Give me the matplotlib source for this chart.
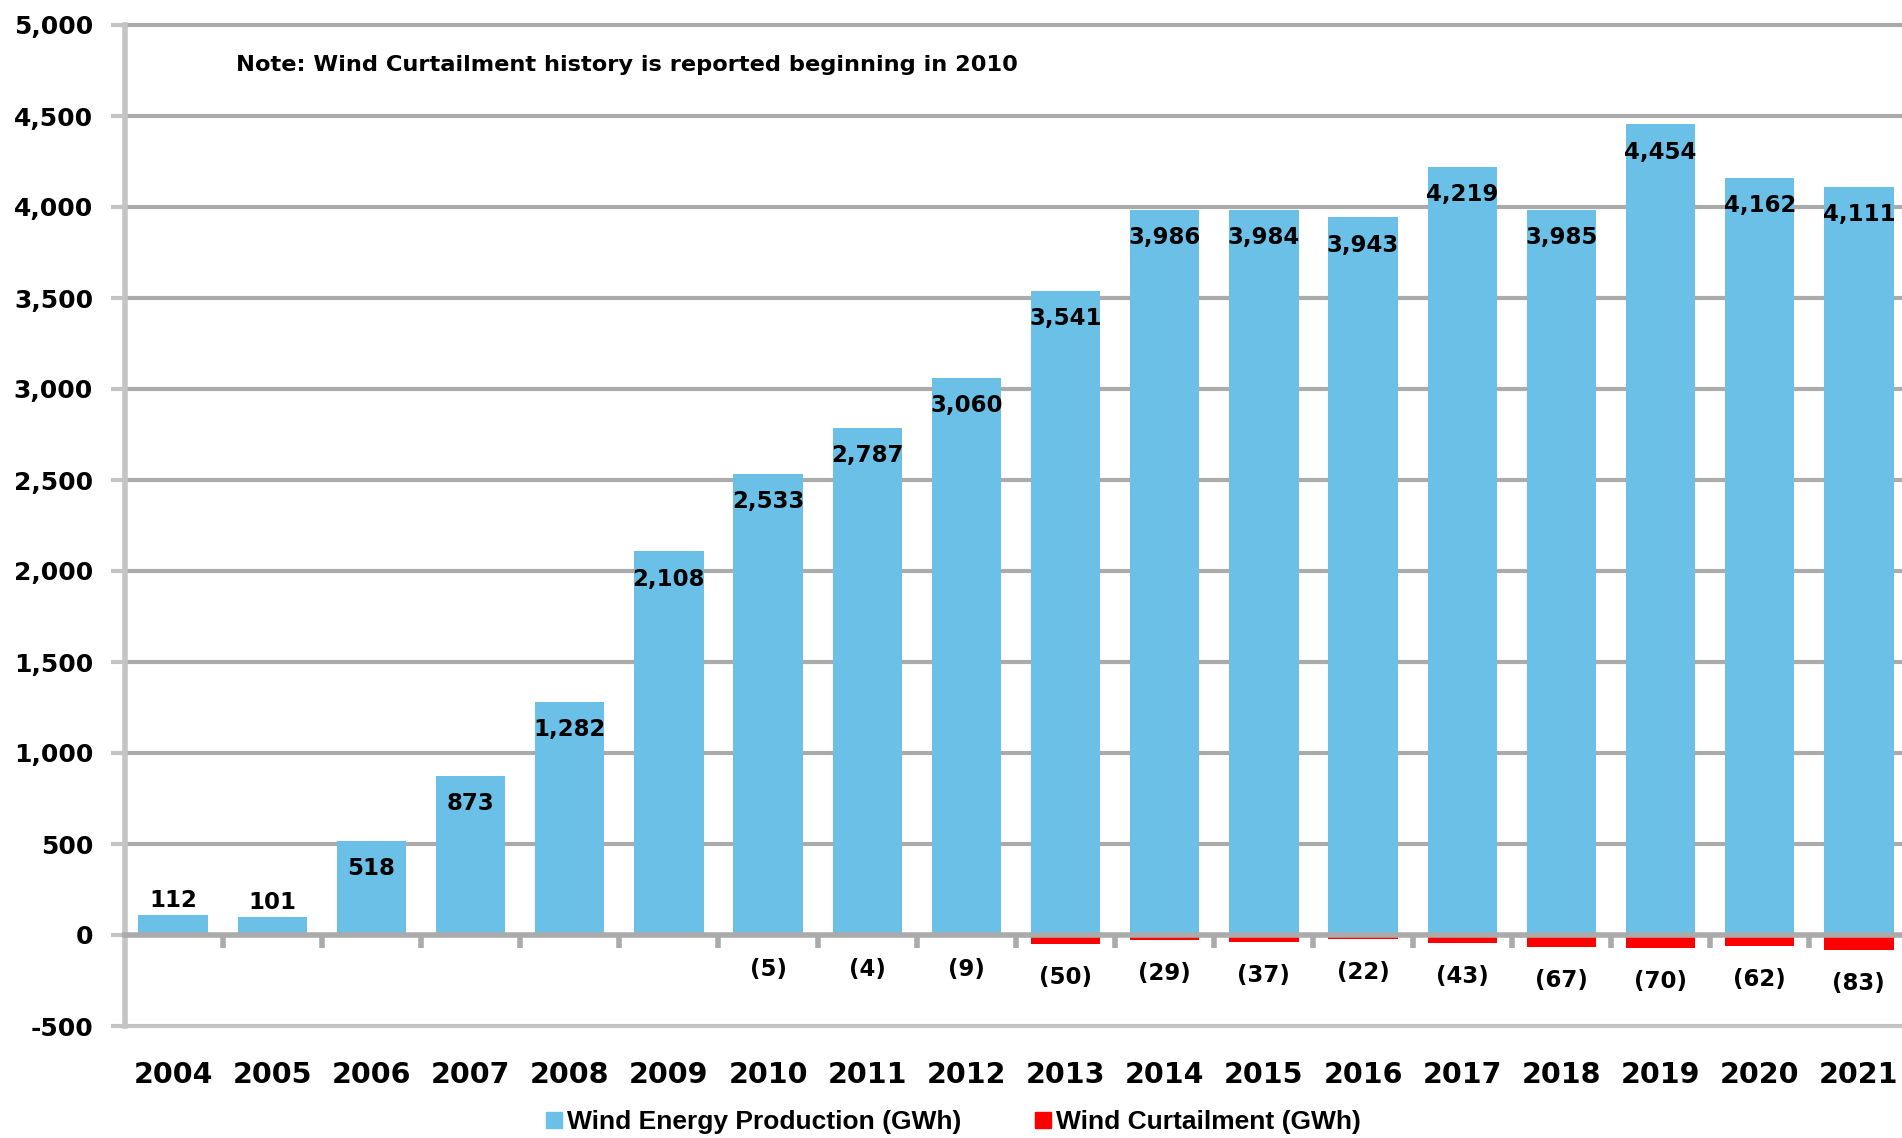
import matplotlib
matplotlib.use("Agg")
import matplotlib.pyplot as plt
from matplotlib.lines import Line2D
import matplotlib.font_manager as fm

years = ["2004", "2005", "2006", "2007", "2008", "2009", "2010", "2011", "2012",
         "2013", "2014", "2015", "2016", "2017", "2018", "2019", "2020", "2021"]
production = [112, 101, 518, 873, 1282, 2108, 2533, 2787, 3060, 3541, 3986,
              3984, 3943, 4219, 3985, 4454, 4162, 4111]
curtailment = [None, None, None, None, None, None, 5, 4, 9, 50, 29, 37, 22,
               43, 67, 70, 62, 83]
yticks = [-500, 0, 500, 1000, 1500, 2000, 2500, 3000, 3500, 4000, 4500, 5000]

BLUE = "#6BC0E8"
RED = "#FF0000"
GRID = "#ABABAB"
SPINE = "#C4C4C4"

names = {f.name for f in fm.fontManager.ttflist}
narrow = "Liberation Sans Narrow" if "Liberation Sans Narrow" in names else "Liberation Sans"
legend_size = 21 if narrow == "Liberation Sans Narrow" else 19

plt.rcParams["font.family"] = ["DejaVu Sans"]
plt.rcParams["font.weight"] = "bold"

fig = plt.figure(figsize=(19.02, 11.38), dpi=100)
ax = fig.add_axes([125 / 1902, 112 / 1138, 1 - 125 / 1902, (1026 - 25) / 1138])

x = list(range(len(years)))
ax.bar(x, production, width=0.7, color=BLUE, zorder=3)
neg = [-(c if c is not None else 0) for c in curtailment]
ax.bar(x, neg, width=0.7, color=RED, zorder=3)

ax.set_xlim(-0.485, len(years) - 1 + 0.435)
ax.set_ylim(-500, 5000)
ax.set_yticks(yticks)
ax.set_yticklabels([f"{v:,}" for v in yticks], fontsize=18, fontweight="bold")
ax.tick_params(axis="y", length=10, width=3, color=SPINE, pad=13)
ax.set_xticks(x)
ax.set_xticklabels(years, fontsize=20.5, fontweight="bold")
ax.tick_params(axis="x", length=0, pad=25)

for v in yticks:
    if v not in (-500, 0):
        ax.axhline(v, color=GRID, lw=3, zorder=1, clip_on=False)

for s in ["top", "right"]:
    ax.spines[s].set_visible(False)
ax.spines["left"].set_color(SPINE)
ax.spines["left"].set_linewidth(4)
ax.spines["bottom"].set_color(SPINE)
ax.spines["bottom"].set_linewidth(3)

# zero axis with category-boundary ticks
sec = ax.secondary_xaxis(500 / 5500)
sec.set_xticks([i + 0.5 for i in x[:-1]])
sec.set_xticklabels([])
sec.tick_params(axis="x", length=9, width=4, color=GRID, direction="out")
sec.spines["bottom"].set_color(GRID)
sec.spines["bottom"].set_linewidth(4)
sec.set_zorder(4)

for i, v in enumerate(production):
    if v < 300:
        ax.annotate(f"{v:,}", (i, v), xytext=(0, 10), textcoords="offset points",
                    ha="center", va="center", fontsize=16.5, fontweight="bold", zorder=5)
    else:
        ax.annotate(f"{v:,}", (i, v), xytext=(0, -20), textcoords="offset points",
                    ha="center", va="center", fontsize=16.5, fontweight="bold", zorder=5)

for i, c in enumerate(curtailment):
    if c is None:
        continue
    ax.annotate(f"({c})", (i, -c), xytext=(0, -24), textcoords="offset points",
                ha="center", va="center", fontsize=16.5, fontweight="bold", zorder=5)

fig.text(236 / 1902, 1 - 65 / 1138,
         "Note: Wind Curtailment history is reported beginning in 2010",
         ha="left", va="center", fontsize=16.2, fontweight="bold")

handles = [Line2D([], [], marker="s", ls="none", color=BLUE, markersize=12),
           Line2D([], [], marker="s", ls="none", color=RED, markersize=12)]
fig.legend(handles, ["Wind Energy Production (GWh)", "Wind Curtailment (GWh)"],
           loc="center", bbox_to_anchor=(0.5, 1 - 1122 / 1138), ncol=2, frameon=False,
           prop={"family": [narrow, "DejaVu Sans"], "weight": "bold", "size": legend_size},
           handletextpad=0.0, columnspacing=2.6, handlelength=1.0)

fig.savefig("out.png", dpi=100)
